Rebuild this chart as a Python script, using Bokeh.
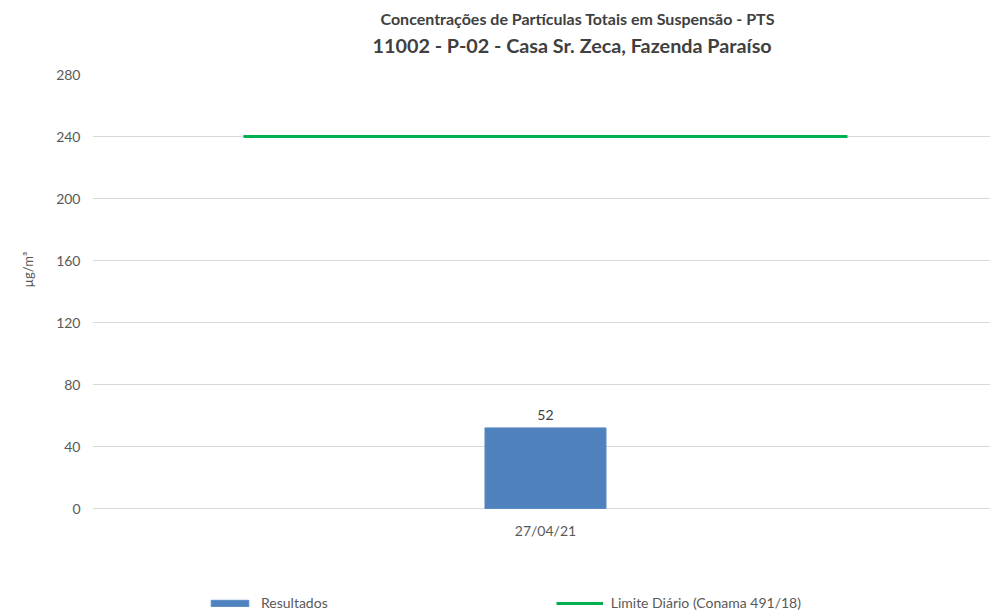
from bokeh.plotting import figure
from bokeh.models import (Range1d, FixedTicker, Title, Legend, LegendItem,
                          ColumnDataSource)
from bokeh.core.properties import value
from bokeh.embed import file_html
from bokeh.resources import INLINE

# ---- data ----
categories = ["27/04/21"]
resultados = [52]
limite_diario = 240
y_ticks = [0, 40, 80, 120, 160, 200, 240, 280]
title_line1 = "Concentrações de Partículas Totais em Suspensão - PTS"
title_line2 = "11002 - P-02 - Casa Sr. Zeca, Fazenda Paraíso"
y_label = "µg/m³"
legend_bar = "Resultados"
legend_line = "Limite Diário (Conama 491/18)"

FONT = "Lato"
TXT = "#595959"

xs = list(range(len(categories)))
src = ColumnDataSource(dict(x=xs, top=resultados, zero=[0] * len(xs),
                            cat=categories,
                            label=[str(v) for v in resultados]))

# frame spans to the canvas bottom so the legend can sit inside it;
# the value axis keeps 434 px for 0..280, with 104 px below zero
y_lo = -280 * 104 / 434
p = figure(width=990, height=612, output_backend="svg", toolbar_location=None,
           x_range=Range1d(-0.5, 0.4912), y_range=Range1d(y_lo, 280),
           min_border_left=92, min_border_right=0, min_border_top=74,
           min_border_bottom=0)
p.outline_line_color = None
p.background_fill_color = "white"
p.border_fill_color = "white"

bars = p.vbar(x="x", top="top", width=0.1336, bottom=0, source=src,
              fill_color="#4f81bd", line_color="#5a8ac6", line_width=1)
lx = [xs[0] - 1/3, xs[-1] + 1/3]
line = p.line(lx, [limite_diario, limite_diario], line_color="#00b050",
              line_width=3)
p.text(x="x", y="top", text="label", source=src, text_align="center",
       text_baseline="bottom", y_offset=-8, text_font=value(FONT),
       text_font_size="14px", text_color="#404040")
# category labels under the bars
p.text(x="x", y="zero", text="cat", source=src, text_align="center",
       text_baseline="middle", y_offset=22, text_font=value(FONT),
       text_font_size="14px", text_color=TXT)

# axes
p.xaxis.visible = False
p.yaxis.ticker = FixedTicker(ticks=y_ticks)
p.yaxis.axis_line_color = None
p.yaxis.major_tick_line_color = None
p.yaxis.minor_tick_line_color = None
p.yaxis.major_label_text_font = FONT
p.yaxis.major_label_text_font_size = "14px"
p.yaxis.major_label_text_color = TXT
p.yaxis.major_label_standoff = 6

ylab = Title(text=y_label, align="left", offset=325,
             text_font=FONT, text_font_size="13px",
             text_font_style="normal", text_color=TXT, standoff=35)
p.add_layout(ylab, "left")

p.xgrid.grid_line_color = None
p.ygrid.ticker = FixedTicker(ticks=y_ticks)
p.ygrid.grid_line_color = "#d9d9d9"
p.ygrid.grid_line_width = 1

# titles (closest first)
t2 = Title(text=title_line2, align="left", offset=280, text_font=FONT,
           text_font_size="19.8px", text_font_style="bold",
           text_color="#404040", standoff=35)
t1 = Title(text=title_line1, align="left", offset=288, text_font=FONT,
           text_font_size="16px", text_font_style="bold",
           text_color="#404040", standoff=-28)
p.add_layout(t2, "above")
p.add_layout(t1, "above")

legend = Legend(items=[LegendItem(label=legend_bar, renderers=[bars]),
                       LegendItem(label=legend_line, renderers=[line])],
                orientation="horizontal", location=(114, 1),
                padding=0, margin=0, spacing=228, glyph_width=47,
                glyph_height=8, label_standoff=8,
                label_text_font=FONT, label_text_font_size="14px",
                label_text_color=TXT, border_line_alpha=0,
                background_fill_alpha=0)
p.add_layout(legend, "center")

open("out.html", "w").write(file_html(p, INLINE))
